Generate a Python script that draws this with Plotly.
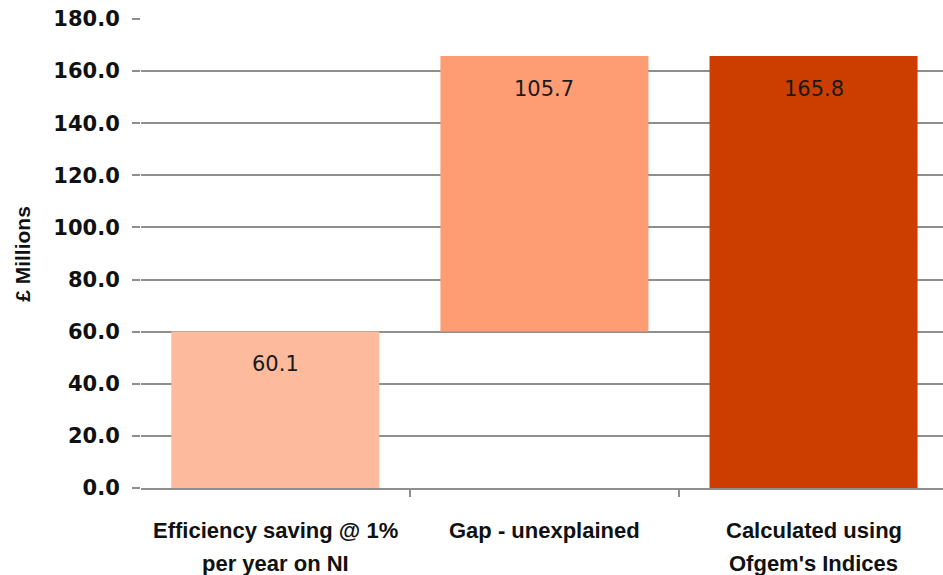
import plotly.graph_objects as go

# Waterfall components (£ millions)
categories = ["Efficiency saving", "Gap", "Ofgem indices"]
tick_labels = [
    ["Efficiency saving @ 1%", "per year on NI"],
    ["Gap - unexplained"],
    ["Calculated using", "Ofgem's Indices"],
]
efficiency_saving = 60.1
gap_unexplained = 105.7
ofgem_total = 165.8

values = [efficiency_saving, gap_unexplained, ofgem_total]
bases = [0, efficiency_saving, 0]
label_text = ["60.1", "105.7", "165.8"]
bar_colors = ["#FDBA9D", "#FE9D74", "#CC3D00"]

y_ticks = [0, 20, 40, 60, 80, 100, 120, 140, 160, 180]

label_font = "Liberation Sans, Arial, sans-serif"

fig = go.Figure()
fig.add_trace(go.Bar(
    x=categories,
    y=values,
    base=bases,
    marker=dict(color=bar_colors, line=dict(width=0)),
    width=0.773,
    hoverinfo="skip",
))

# Value labels sitting just inside the top of each bar
for cat, val, base, txt in zip(categories, values, bases, label_text):
    fig.add_annotation(
        x=cat, y=base + val, text=txt, showarrow=False,
        yanchor="top", yshift=-19,
        font=dict(family="DejaVu Sans", size=21, color="#1a1a1a"),
    )

# Category labels below the axis, one annotation per text line
for cat, lines in zip(categories, tick_labels):
    for i, line in enumerate(lines):
        fig.add_annotation(
            x=cat, xref="x", y=0, yref="paper",
            yanchor="middle", yshift=-42 - 33 * i,
            text=line, showarrow=False,
            font=dict(family=label_font, size=22, color="#111", weight="bold"),
        )

# Vertical axis title
fig.add_annotation(
    xref="paper", yref="paper", x=-0.148, y=0.5,
    xanchor="center", yanchor="middle", textangle=-90,
    text="£ Millions", showarrow=False,
    font=dict(family=label_font, size=21, color="#111", weight="bold"),
)

fig.update_layout(
    width=943, height=575,
    margin=dict(l=141, r=0, t=19, b=87),
    paper_bgcolor="white", plot_bgcolor="white",
    showlegend=False,
    bargap=0.227,
    yaxis=dict(
        range=[0, 180], tickvals=y_ticks,
        ticktext=[f"{v:.1f}" for v in y_ticks],
        tickfont=dict(family="DejaVu Sans", size=21, color="#111", weight="bold"),
        showgrid=True, gridcolor="#8e8e8e", gridwidth=2,
        ticks="outside", ticklen=8, tickcolor="#8e8e8e", tickwidth=2,
        ticklabelstandoff=8,
        showline=False, zeroline=False,
        automargin=False,
    ),
    xaxis=dict(
        range=[-0.499, 2.481],
        tickvals=categories, showticklabels=False,
        tickson="boundaries", ticks="outside", ticklen=7,
        tickcolor="#8e8e8e", tickwidth=2,
        showline=True, linecolor="#8e8e8e", linewidth=2,
        showgrid=False,
        automargin=False,
    ),
)

fig.write_html("out.html")
